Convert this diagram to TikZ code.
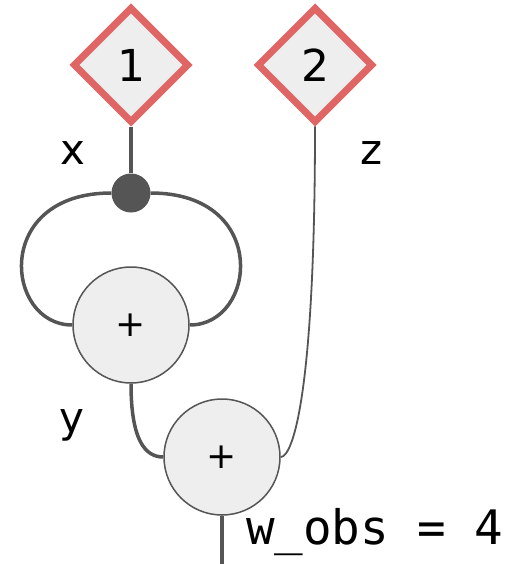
\documentclass[tikz,border=0pt]{standalone}
\usepackage{fontspec}
\setmainfont{DejaVu Sans}
\setmonofont{DejaVu Sans Mono}
\usetikzlibrary{shapes.geometric}
\definecolor{givenred}{HTML}{E06666}
\definecolor{opfill}{HTML}{EEEEEE}
\definecolor{wiregray}{HTML}{555555}
\begin{document}
\begin{tikzpicture}[x=1pt, y=-1pt,
   wire/.style={draw=wiregray, line width=3.5pt},
   thinwire/.style={draw=wiregray, line width=1.8pt},
   given/.style={diamond, draw=givenred, fill=opfill, line width=7pt, minimum size=116pt, inner sep=0pt, font=\fontsize{44}{52}\selectfont},
   op/.style={circle, draw=wiregray, fill=opfill, line width=1.5pt, minimum size=116pt, inner sep=0pt, font=\fontsize{36}{42}\selectfont},
   copydot/.style={circle, fill=wiregray, minimum size=39pt, inner sep=0pt}]
\useasboundingbox (0,0) rectangle (515,564);
\node[given] (one) at (131,65) {1};
\node[given] (two) at (315,65) {2};
\node[copydot] (dup) at (131,193) {};
\node[op] (sum1) at (131,325) {+};
\node[op] (sum2) at (222,457) {+};
\coordinate (obs) at (222,564);
\draw[wire, line width=4pt] (one) -- (dup);
\draw[wire] (dup.west) .. controls (-8,193) and (5,325) .. (sum1.west);
\draw[wire] (dup.east) .. controls (270,193) and (257,325) .. (sum1.east);
\draw[wire] (sum1.south) .. controls (131,440) and (145,457) .. (sum2.west);
\draw[thinwire] (two.south) .. controls (315,400) and (292,457) .. (sum2.east);
\draw[wire, line width=4pt] (sum2.south) -- (obs);
  \begin{scope}[every node/.style={font=\fontsize{42}{50}\selectfont}]
\node (lx) at (73,153) {x};
\node (lz) at (372,153) {z};
\node (ly) at (72,425) {y};
\node[anchor=base west, inner sep=0pt, font=\fontsize{47.5}{54}\selectfont] (lobs) at (246,544) {\ttfamily w\_obs = 4};
  \end{scope}
\end{tikzpicture}
\end{document}
